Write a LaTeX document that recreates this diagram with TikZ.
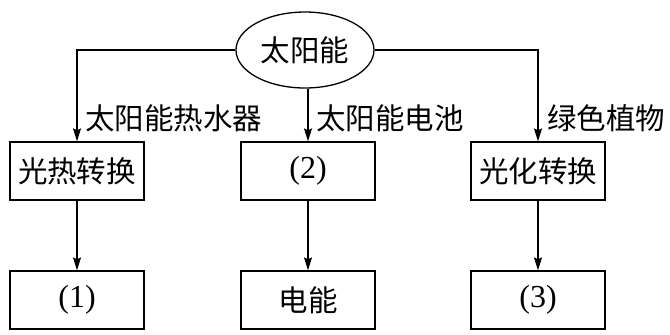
\documentclass[tikz,border=0pt]{standalone}
\usepackage{fontspec}
\setmainfont{Liberation Serif}
\newfontfamily\cjk{Noto Sans CJK SC}
\usetikzlibrary{shapes.geometric,arrows.meta}
\begin{document}
\begin{tikzpicture}[x=1pt,y=-1pt,
  every node/.style={font=\fontsize{29.5}{31}\selectfont\cjk, inner sep=0pt},
  num/.style={font=\fontsize{32}{34}\selectfont\rmfamily},
  box/.style={draw, line width=1.3pt, minimum width=134pt, minimum height=58pt},
  oval/.style={draw, ellipse, line width=1.3pt, minimum width=138pt, minimum height=76pt},
  conn/.style={line width=1.2pt, -{Stealth[length=13pt,width=8pt,inset=2pt]}},
  lbl/.style={anchor=west}]
\useasboundingbox (0,0) rectangle (670,335);
\node[oval] (sun) at (305,50) {太阳能};
\node[box] (b1) at (77,171) {光热转换};
\node[box, num] (b2) at (308,171) {(2)};
\node[box] (b3) at (538,171) {光化转换};
\node[box, num] (c1) at (77,300) {(1)};
\node[box] (c2) at (308,300) {电能};
\node[box, num] (c3) at (538,300) {(3)};
\draw[conn] (sun.west) -| (b1.north);
\draw[conn] (sun.east) -| (b3.north);
\draw[conn] (b2.north |- sun.south) -- (b2.north);
\draw[conn] (b1) -- (c1);
\draw[conn] (b2) -- (c2);
\draw[conn] (b3) -- (c3);
\node[lbl] (l1) at (85,118) {太阳能热水器};
\node[lbl] (l2) at (316,118) {太阳能电池};
\node[lbl] (l3) at (547,118) {绿色植物};
\end{tikzpicture}
\end{document}
